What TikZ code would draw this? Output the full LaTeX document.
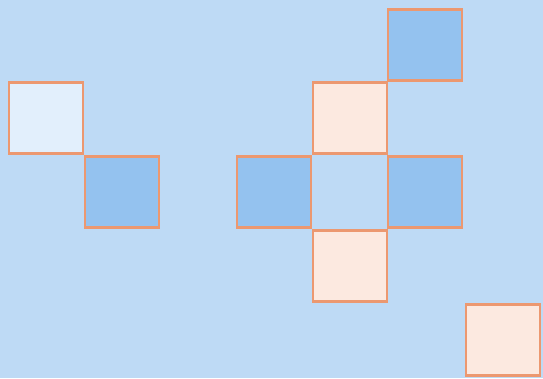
\documentclass[tikz,border=0pt]{standalone}
\usepackage{tikz}
\definecolor{bgblue}{RGB}{190,218,245}
\definecolor{tileblue}{RGB}{148,194,239}
\definecolor{tilewhite}{RGB}{226,239,252}
\definecolor{tilebeige}{RGB}{252,233,224}
\definecolor{rim}{RGB}{236,152,112}
\begin{document}
\begin{tikzpicture}[x=1pt,y=-1pt,
  tile/.style={rectangle,draw=rim,line width=2.4pt,minimum width=74pt,minimum height=71pt,inner sep=0pt},
  dark/.style={tile,fill=tileblue},
  pale/.style={tile,fill=tilewhite},
  warm/.style={tile,fill=tilebeige}]
  \fill[bgblue] (0,0) rectangle (543,378);
  \useasboundingbox (0,0) rectangle (543,378);
  % left pair
  \node[pale] (a) at (46,118) {};
  \node[dark] (b) at (122,192) {};
  % cross on the right
  \node[dark] (top) at (425,45) {};
  \node[warm] (up) at (350,118) {};
  \node[dark] (west) at (274,192) {};
  \node[dark] (east) at (425,192) {};
  \node[warm] (down) at (350,266) {};
  % corner tile
  \node[warm] (corner) at (503,340) {};
\end{tikzpicture}
\end{document}
